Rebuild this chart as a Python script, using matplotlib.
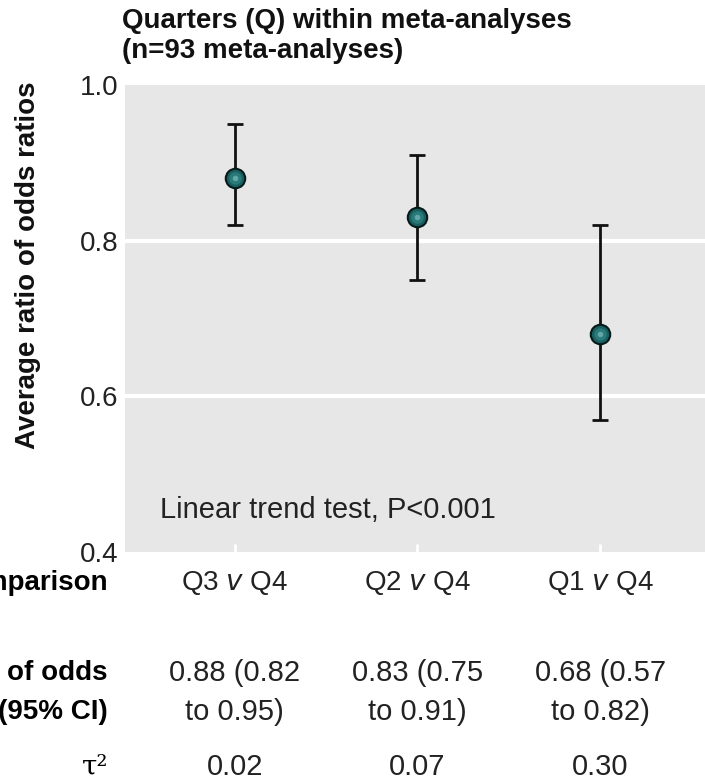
import matplotlib
matplotlib.use('Agg')
import matplotlib.pyplot as plt
import matplotlib.transforms as mtransforms

plt.rcParams['font.family'] = ['Liberation Sans', 'DejaVu Sans']

# data
comparisons = ['Q3 $\\it{v}$ Q4', 'Q2 $\\it{v}$ Q4', 'Q1 $\\it{v}$ Q4']
ratios = [0.88, 0.83, 0.68]
ci_low = [0.82, 0.75, 0.57]
ci_high = [0.95, 0.91, 0.82]
tau2 = ['0.02', '0.07', '0.30']
yticks = [0.4, 0.6, 0.8, 1.0]

fig = plt.figure(figsize=(7.05, 7.81), dpi=100)
ax = fig.add_axes([125 / 705, 229 / 781, 585 / 705, 467 / 781])
ax.set_facecolor('#e7e7e7')

xs = list(range(len(ratios)))
yerr = [[r - lo for r, lo in zip(ratios, ci_low)],
        [hi - r for r, hi in zip(ratios, ci_high)]]
ax.errorbar(xs, ratios, yerr=yerr, fmt='none', ecolor='#111111',
            elinewidth=2.0, capsize=6, capthick=2.0, zorder=3)
# shaded "sphere" markers
ax.plot(xs, ratios, 'o', ms=14, color='#1a5f5f', mec='#061a1a', mew=1.5, zorder=4)
ax.plot(xs, ratios, 'o', ms=9, color='#2a7a7a', mew=0, zorder=5)
ax.plot(xs, ratios, 'o', ms=4, color='#6fb3b3', alpha=0.8, mew=0, zorder=6)

ax.set_xlim(-0.6, 2.6)
ax.set_ylim(0.4, 1.0)
ax.set_yticks(yticks)
ax.set_yticklabels(['{:.1f}'.format(t) for t in yticks])
for t in [0.6, 0.8]:
    ax.axhline(t, color='white', lw=3, zorder=1)
for s in ax.spines.values():
    s.set_visible(False)
ax.tick_params(axis='y', length=0, labelsize=20, pad=5, labelcolor='#222222')
ax.set_xticks(xs)
ax.set_xticklabels([])
ax.tick_params(axis='x', direction='in', length=6, width=2, color='white')

ax.text(-0.41, 0.444, 'Linear trend test, P<0.001', fontsize=21, color='#222222',
        va='baseline')

fig.text(122 / 705, 1 - 21 / 781, 'Quarters (Q) within meta-analyses', fontsize=20,
         fontweight='bold', va='center', ha='left', color='#111111')
fig.text(122 / 705, 1 - 51 / 781, '(n=93 meta-analyses)', fontsize=20,
         fontweight='bold', va='center', ha='left', color='#111111')
fig.text(28 / 705, 1 - 265 / 781, 'Average ratio of odds ratios', fontsize=20,
         fontweight='bold', rotation=90, va='center', ha='center', color='#111111')

# table under the axis
trans = mtransforms.blended_transform_factory(ax.transData, fig.transFigure)
row_comp = 1 - 583 / 781
row_or1 = 1 - 673 / 781
row_or2 = 1 - 712 / 781
row_tau = 1 - 767 / 781
for x, c, r, lo, hi, t in zip(xs, comparisons, ratios, ci_low, ci_high, tau2):
    ax.text(x, row_comp, c, transform=trans, ha='center', va='center', fontsize=20, color='#222222')
    ax.text(x, row_or1, '{:.2f} ({:.2f}'.format(r, lo), transform=trans, ha='center',
            va='center', fontsize=21, color='#222222')
    ax.text(x, row_or2, 'to {:.2f})'.format(hi), transform=trans, ha='center',
            va='center', fontsize=21, color='#222222')
    ax.text(x, row_tau, t, transform=trans, ha='center', va='center', fontsize=21, color='#222222')

lx = 108 / 705
fig.text(lx, row_comp, 'Comparison', fontsize=20, fontweight='bold', ha='right', va='center')
fig.text(lx, row_or1, 'Ratio of odds', fontsize=20, fontweight='bold', ha='right', va='center')
fig.text(lx, row_or2, 'ratios (95% CI)', fontsize=20, fontweight='bold', ha='right', va='center')
fig.text(lx, row_tau, '\u03c4\u00b2', fontsize=20, ha='right', va='center', family='DejaVu Serif')

fig.savefig('out.png', dpi=100)
